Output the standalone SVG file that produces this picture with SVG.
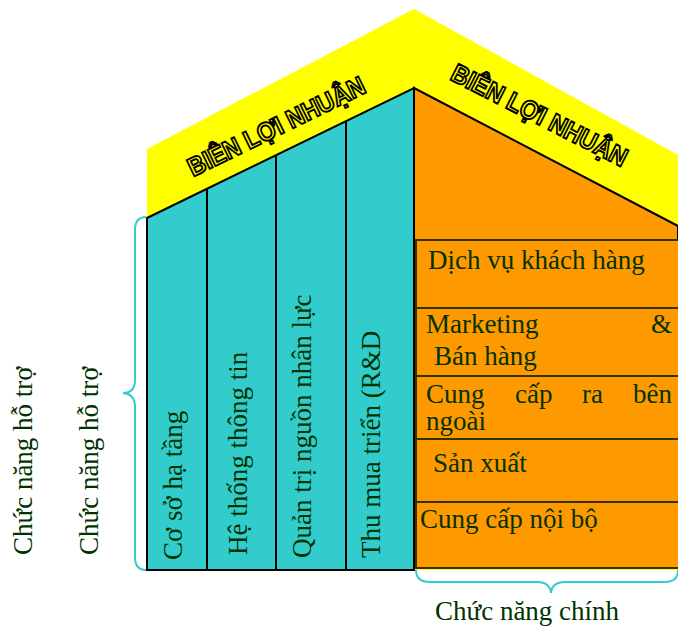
<svg xmlns="http://www.w3.org/2000/svg" width="678" height="629" viewBox="0 0 678 629">
<style>
.t{font-family:"Liberation Serif","Times New Roman",serif;font-size:27px;fill:#003300}
.roof{font-family:"Liberation Sans",Arial,sans-serif;font-size:26px;font-weight:bold;fill:#ffff00;stroke:#000;stroke-width:1.9px}
.br{fill:none;stroke:#33cccc;stroke-width:2}
.row{fill:#ff9900;stroke:#333300;stroke-width:2}
</style>
<rect width="678" height="629" fill="#fff"/>
<g id="roof">
<polygon points="147,149 414,9 678,155 678,570 147,570" fill="#ffff00"/>
<text class="roof" transform="translate(193,177) rotate(-26) scale(0.9,1)">BIÊN LỢI NHUẬN</text>
<text class="roof" transform="translate(449,79) rotate(27) scale(0.9,1)">BIÊN LỢI NHUẬN</text>
</g>
<g id="support">
<polygon points="147,218 414,88 414,570 147,570" fill="#33cccc" stroke="#000" stroke-width="2"/>
<line x1="207" y1="189" x2="207" y2="570" stroke="#000" stroke-width="2"/>
<line x1="276" y1="155" x2="276" y2="570" stroke="#000" stroke-width="2"/>
<line x1="346" y1="121" x2="346" y2="570" stroke="#000" stroke-width="2"/>
<text class="t" transform="translate(182,560) rotate(-90)">Cơ sở hạ tầng</text>
<text class="t" transform="translate(247,555) rotate(-90)">Hệ thống thông tin</text>
<text class="t" transform="translate(311,558) rotate(-90)">Quản trị nguồn nhân lực</text>
<text class="t" transform="translate(380,558) rotate(-90)">Thu mua triển (R&amp;D</text>
</g>
<g id="primary">
<polygon points="414,88 678,226 678,568 414,568" fill="#ff9900" stroke="#000" stroke-width="2"/>
<rect class="row" x="416" y="240" width="266" height="68"/>
<rect class="row" x="416" y="308" width="266" height="68"/>
<rect class="row" x="416" y="376" width="266" height="63"/>
<rect class="row" x="416" y="439" width="266" height="63"/>
<rect class="row" x="416" y="502" width="266" height="66"/>
<line x1="414" y1="88" x2="414" y2="570" stroke="#000" stroke-width="2"/>
<text class="t" x="428" y="269">Dịch vụ khách hàng</text>
<text class="t" x="426" y="333">Marketing</text>
<text class="t" x="672" y="333" text-anchor="end">&amp;</text>
<text class="t" x="434" y="365">Bán hàng</text>
<text class="t" x="426" y="403">Cung</text>
<text class="t" x="515" y="403">cấp</text>
<text class="t" x="582" y="403">ra</text>
<text class="t" x="672" y="403" text-anchor="end">bên</text>
<text class="t" x="426" y="430">ngoài</text>
<text class="t" x="433" y="472">Sản xuất</text>
<text class="t" x="420" y="528">Cung cấp nội bộ</text>
</g>
<g id="connectors">
<path class="br" d="M146,217 Q135,217 135,230 L135,380 Q135,393 123,393 Q135,394 135,407 L135,557 Q135,570 146,570"/>
<path class="br" d="M416,570 Q416,582 430,582 L537,582 Q550,582 551,593 Q552,582 565,582 L665,582 Q678,582 678,570"/>
</g>
<g id="labels">
<text class="t" transform="translate(32,555) rotate(-90)">Chức năng hỗ trợ</text>
<text class="t" transform="translate(98,555) rotate(-90)">Chức năng hỗ trợ</text>
<text class="t" x="435" y="620">Chức năng chính</text>
</g>
</svg>
